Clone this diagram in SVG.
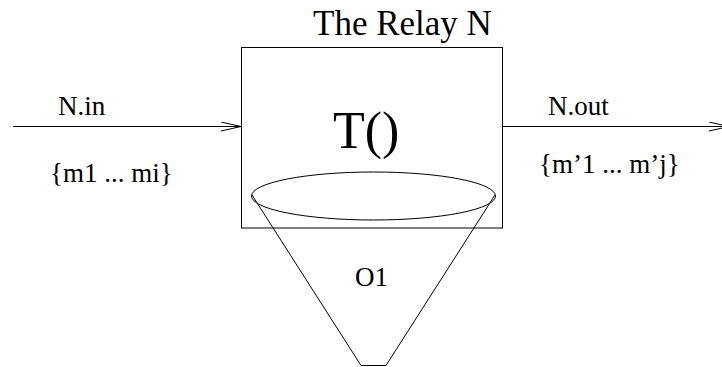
<svg xmlns="http://www.w3.org/2000/svg" width="722" height="367" viewBox="0 0 722 367">
<style>
.s{fill:none;stroke:#000;stroke-width:1}
text{font-family:"Liberation Serif","Times New Roman",serif;fill:#000}
.m{font-size:27px}
</style>
<defs>
<marker id="ah" viewBox="0 0 20 10" refX="20" refY="5" markerWidth="20" markerHeight="10" markerUnits="userSpaceOnUse" orient="auto">
<path d="M0,0.5 L20,5 L0,9.5" fill="none" stroke="#000" stroke-width="1"/>
</marker>
</defs>
<rect width="722" height="367" fill="#fff"/>
<g id="relay">
<rect class="s" x="241.5" y="47.5" width="261" height="180.5"/>
<text x="313" y="35" style="font-size:35px">The Relay N</text>
<text x="333" y="148" style="font-size:52px">T()</text>
</g>
<g id="o1">
<ellipse class="s" cx="373.5" cy="196" rx="122" ry="24"/>
<path class="s" d="M252,195 L361,365.5 L386,365.5 L495,195"/>
<text class="m" x="355" y="286">O1</text>
</g>
<g id="labels">
<text class="m" x="58" y="115">N.in</text>
<text class="m" x="50" y="182">{m1 ... mi}</text>
<text class="m" x="548" y="115">N.out</text>
<text class="m" x="539" y="173">{m’1 ... m’j}</text>
</g>
<g id="connectors">
<line class="s" x1="13" y1="126.5" x2="241" y2="126.5" marker-end="url(#ah)"/>
<line class="s" x1="503" y1="126.5" x2="729" y2="126.5" marker-end="url(#ah)"/>
</g>
</svg>
